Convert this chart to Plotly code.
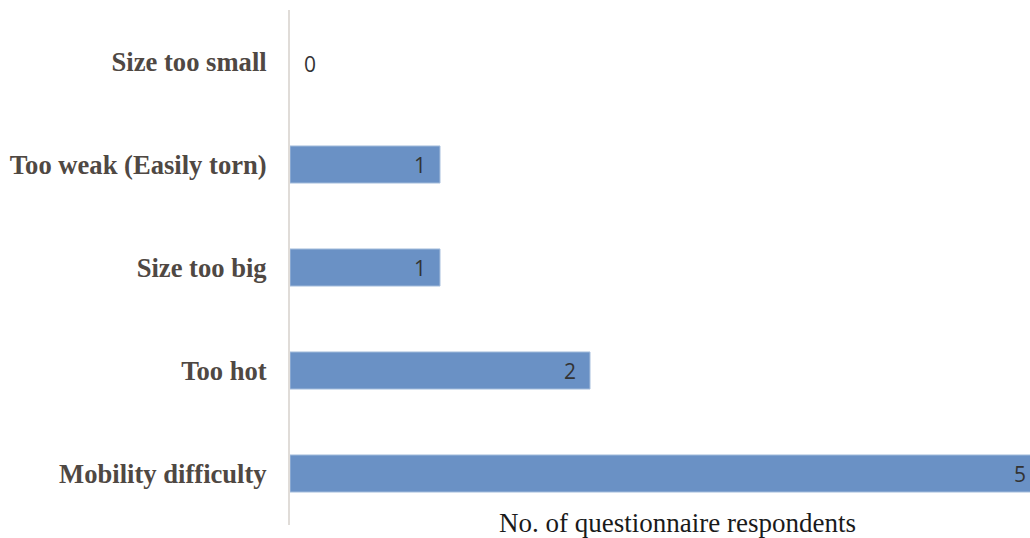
import plotly.graph_objects as go

categories = ["Size too small", "Too weak (Easily torn)", "Size too big", "Too hot", "Mobility difficulty"]
values = [0, 1, 1, 2, 5]
x_title = "No. of questionnaire respondents"

BAR_COLOR = "#6a91c5"
BAR_EDGE = "#a8bfdd"
LABEL_COLOR = "#4f4843"
PAD = "&nbsp;&nbsp;"

fig = go.Figure()
fig.add_trace(go.Bar(
    y=categories,
    x=values,
    orientation="h",
    width=0.36,
    marker=dict(color=BAR_COLOR,
                line=dict(color=BAR_EDGE, width=[0 if v == 0 else 1 for v in values])),
    text=[str(v) + PAD if v > 0 else "" for v in values],
    textposition="inside",
    insidetextanchor="end",
    constraintext="none",
    textangle=0,
    insidetextfont=dict(family="Open Sans", size=21, color="#333333"),
    cliponaxis=True,
    hoverinfo="skip",
))

for cat, v in zip(categories, values):
    if v == 0:
        fig.add_annotation(x=v, y=cat, text=str(v), showarrow=False,
                           xanchor="left", xshift=12, yshift=-2,
                           font=dict(family="Open Sans", size=21, color="#333333"))

fig.add_annotation(x=0.524, y=0, xref="paper", yref="paper", text=x_title,
                   showarrow=False, xanchor="center", yanchor="middle", yshift=2,
                   font=dict(family="Liberation Serif", size=27, color="#1a1a1a"))

fig.update_layout(
    width=1030, height=538,
    margin=dict(l=290, r=0, t=10, b=13),
    paper_bgcolor="white", plot_bgcolor="white",
    showlegend=False,
    xaxis=dict(range=[0, 740 / 150], showgrid=False, zeroline=False,
               showticklabels=False, showline=False, fixedrange=True),
    yaxis=dict(categoryorder="array", categoryarray=categories[::-1],
               autorange=False, range=[-0.5, 4.5],
               showgrid=False, zeroline=False,
               showline=True, linecolor="#e0dcd8", linewidth=2,
               ticks="outside", ticklen=16, tickcolor="rgba(0,0,0,0)",
               tickfont=dict(family="Liberation Serif", size=26.6, color=LABEL_COLOR,
                             weight="bold"),
               fixedrange=True),
)

fig.write_html("out.html")
